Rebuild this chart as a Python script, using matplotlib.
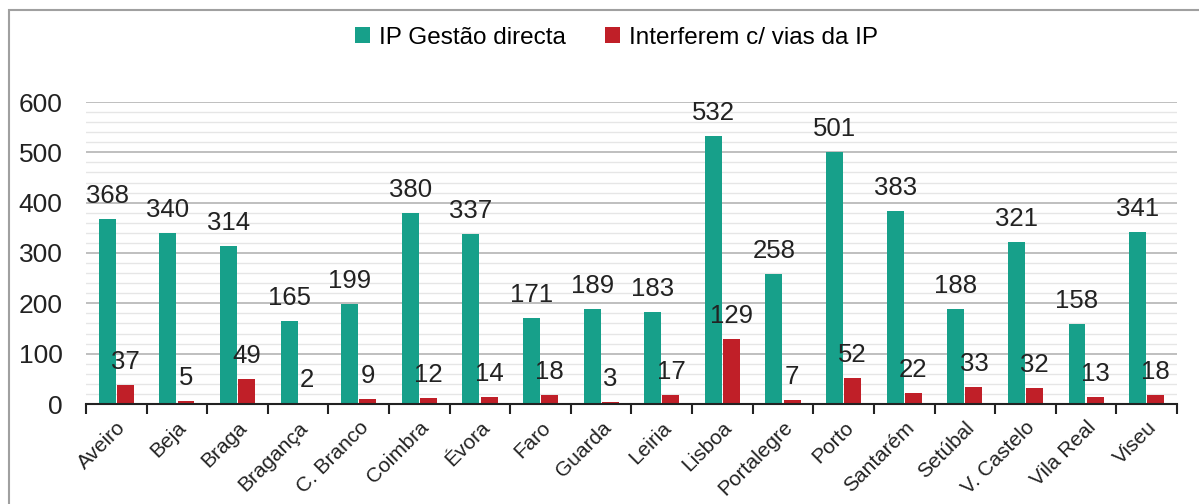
import matplotlib.pyplot as plt
import numpy as np
from matplotlib.patches import Rectangle
from matplotlib.ticker import MultipleLocator

districts = ["Aveiro", "Beja", "Braga", "Bragança", "C. Branco", "Coimbra", "Évora",
             "Faro", "Guarda", "Leiria", "Lisboa", "Portalegre", "Porto", "Santarém",
             "Setúbal", "V. Castelo", "Vila Real", "Viseu"]
gestao_directa = [368, 340, 314, 165, 199, 380, 337, 171, 189, 183, 532, 258, 501, 383,
                  188, 321, 158, 341]
interferem = [37, 5, 49, 2, 9, 12, 14, 18, 3, 17, 129, 7, 52, 22, 33, 32, 13, 18]

TEAL = "#17a08a"
RED = "#c01f28"

plt.rcParams["font.family"] = ["Liberation Sans Narrow", "Liberation Sans", "DejaVu Sans"]


def main():
    fig = plt.figure(figsize=(11.99, 5.04), dpi=100)
    ax = fig.add_axes([86 / 1199, 1 - 404 / 504, (1177 - 86) / 1199, 302 / 504])

    x = np.arange(len(districts))
    w = 0.28
    b1 = ax.bar(x - w / 2 - 0.01, gestao_directa, w, color=TEAL, label="IP Gestão directa")
    b2 = ax.bar(x + w / 2 + 0.01, interferem, w, color=RED, label="Interferem c/ vias da IP")
    ax.bar_label(b1, padding=8, fontsize=18.5, color="#222222")
    ax.bar_label(b2, padding=8, fontsize=18.5, color="#222222")

    ax.set_xlim(-0.5, len(districts) - 0.5)
    ax.set_ylim(0, 600)
    ax.yaxis.set_major_locator(MultipleLocator(100))
    ax.yaxis.set_minor_locator(MultipleLocator(20))
    ax.grid(axis="y", which="major", color="#b4b4b4", linewidth=1.2)
    ax.grid(axis="y", which="minor", color="#e6e6e6", linewidth=1.0)
    ax.set_axisbelow(True)

    for side in ("top", "right", "left"):
        ax.spines[side].set_visible(False)
    ax.spines["bottom"].set_color("#222222")
    ax.spines["bottom"].set_linewidth(1.5)

    ax.set_xticks(x)
    ax.set_xticklabels(districts, rotation=45, ha="right", rotation_mode="anchor",
                       fontsize=15, color="#222222")
    ax.tick_params(axis="x", length=0, pad=10)
    ax.set_xticks(np.arange(len(districts) + 1) - 0.5, minor=True)
    ax.tick_params(axis="x", which="minor", length=7, width=1.5, color="#222222", direction="out")
    ax.tick_params(axis="y", which="both", length=0, labelsize=19, labelcolor="#222222", pad=17)

    fig.legend(handles=[b1, b2], loc="center", bbox_to_anchor=(0.514, 0.925), ncol=2,
               frameon=False, fontsize=17.5, handlelength=0.65, handleheight=0.65,
               handletextpad=0.35, columnspacing=1.6)

    fig.patches.append(Rectangle((9 / 1199, -0.1), 1.2, 1 - 10 / 504 + 0.1,
                                 transform=fig.transFigure, fill=False,
                                 edgecolor="#a0a0a0", linewidth=1.5))

    fig.savefig("out.png", dpi=100)


if __name__ == "__main__":
    main()
